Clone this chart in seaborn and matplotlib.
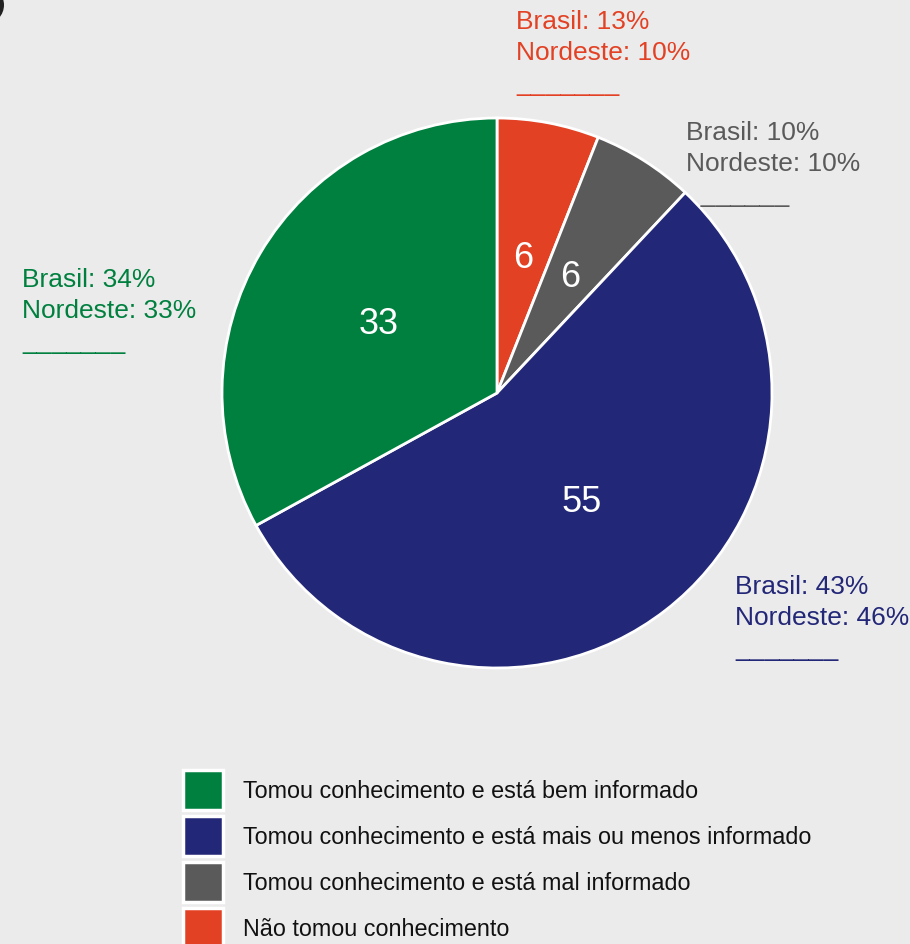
import matplotlib
matplotlib.use('Agg')
import matplotlib.pyplot as plt
import seaborn as sns
from matplotlib.patches import Circle

# data
categories = ['Não tomou conhecimento',
              'Tomou conhecimento e está mal informado',
              'Tomou conhecimento e está mais ou menos informado',
              'Tomou conhecimento e está bem informado']
values = [6, 6, 55, 33]
colors = ['#e34124', '#5a5a5a', '#232777', '#00803f']
brasil = [13, 10, 43, 34]
nordeste = [10, 10, 46, 33]

sns.set_theme(style='white')
plt.rcParams['font.family'] = ['Liberation Sans', 'DejaVu Sans']

bg = '#ebebeb'
fig = plt.figure(figsize=(9.1, 9.45), dpi=100, facecolor=bg)

# pie centred at (497, 394) px, radius 275 px
W, H = 910, 945
cx, cy, r = 497, 394, 275
ax = fig.add_axes([(cx - r) / W, (H - cy - r) / H, 2 * r / W, 2 * r / H])
ax.set_facecolor('none')

wedges, texts = ax.pie(values, colors=colors, startangle=90, counterclock=False,
                       labels=[str(v) for v in values], labeldistance=0.5,
                       wedgeprops=dict(edgecolor='white', linewidth=2))
for t in texts:
    t.set_color('white')
    t.set_fontsize(26)
    t.set_ha('center')
    t.set_va('center')
ax.set_xlim(-1, 1)
ax.set_ylim(-1, 1)
ax.set_aspect('equal')

# side annotations (x, y of first line in pixels)
ann_pos = [(516, 20, '', 7), (686, 131, '  ', 6), (735, 585, '', 7), (22, 278, '', 7)]
for (x, y, pad, nu), b, n, c in zip(ann_pos, brasil, nordeste, colors):
    fig.text(x / W, 1 - (y - 10) / H,
             f'Brasil: {b}%\nNordeste: {n}%\n{pad}' + '_' * nu,
             color=c, fontsize=19, ha='left', va='top', linespacing=1.37)

# legend (order: green, navy, gray, red)
order = [3, 2, 1, 0]
leg = fig.legend([wedges[i] for i in order], [categories[i] for i in order],
                 loc='upper left', bbox_to_anchor=(183 / W, 1 - 771 / H),
                 frameon=False, fontsize=16.8, handlelength=1.72, handleheight=2.26,
                 labelspacing=0.26, handletextpad=0.86, borderpad=0, borderaxespad=0)
for t in leg.get_texts():
    t.set_color('#111111')
for h in leg.legend_handles:
    h.set_linewidth(2.5)
    h.set_edgecolor('white')

# dark circle fragment at top-left corner
fig.patches.append(Circle((-14 / W, 1 - 6 / H), 18 / W, transform=fig.transFigure,
                          facecolor='#222222', edgecolor='none'))

fig.savefig('out.png', dpi=100, facecolor=bg)
